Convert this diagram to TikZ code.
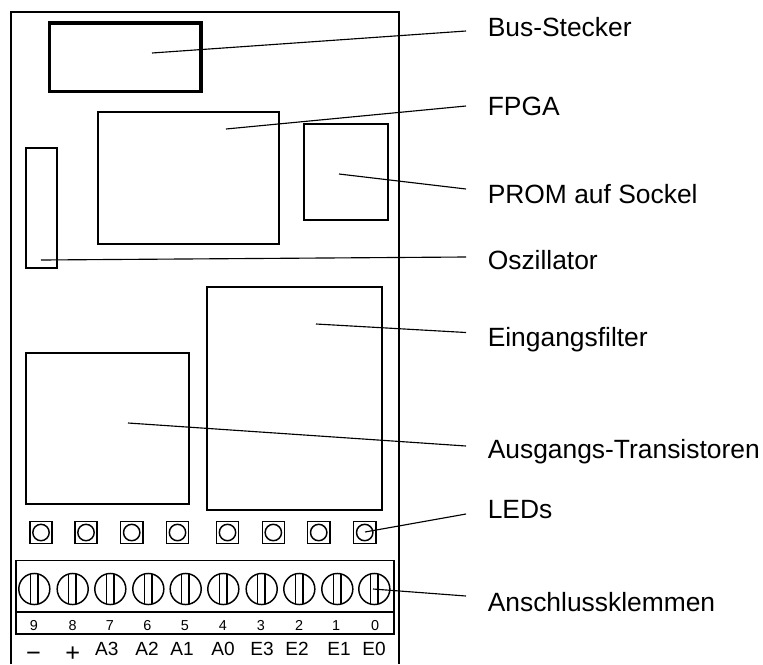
\documentclass[tikz,border=0pt]{standalone}
\usepackage{fontspec}
\setmainfont{Liberation Sans}
\tikzset{
  x=0.75pt,y=-0.75pt,
  part/.style={draw,line width=1.25pt},
  thick part/.style={draw,line width=2.6pt},
  leader/.style={draw,line width=0.85pt},
  lab/.style={anchor=base west,inner sep=0pt,font=\fontsize{19.8}{23}\selectfont},
  small/.style={anchor=base,inner sep=0pt,font=\fontsize{10.8}{13}\selectfont},
  sig/.style={anchor=base,inner sep=0pt,font=\fontsize{14.3}{17}\selectfont},
  sign/.style={anchor=base,inner sep=0pt,font=\fontsize{19}{23}\selectfont},
  led/.style={draw,line width=1.1pt,minimum size=16.6pt,inner sep=0pt},
  ring/.style={draw,circle,line width=1.1pt,minimum size=12.3pt,inner sep=0pt},
  screw/.style={draw,circle,line width=1.1pt,minimum size=23.3pt,inner sep=0pt},
  cbar/.style={line width=1.1pt}
}
\begin{document}
\begin{tikzpicture}
\useasboundingbox (0,0) rectangle (763,664);
\fill[white] (0,0) rectangle (763,664);
\draw[line width=1.25pt] (11,664) -- (11,12) -- (399,12) -- (399,664);
\draw[thick part] (49.5,23) rectangle (201,91.7);
\draw[part] (98,112) rectangle (279,244);
\draw[part] (304,124) rectangle (388,220);
\draw[part] (26,148) rectangle (57,268);
\draw[part] (207,287) rectangle (382,510);
\draw[part] (26,353) rectangle (189,504);
% LEDs
\foreach \n/\x in {1/41,2/86,3/131.7,4/177.5,5/227.5,6/273.3,7/318.7,8/364.7}{
  \node[led] (l\n) at (\x,532.5) {};
  \node[ring] (r\n) at (\x,532.5) {};
}
% terminal block
\draw[part] (16,560.5) rectangle (393.7,634);
\draw[part] (16,611.7) -- (393.7,611.7);
\foreach \n/\x in {1/34.3,2/72.7,3/110.3,4/148.3,5/185.7,6/223.3,7/261.7,8/299.3,9/337.3,10/374.3}{
  \node[screw] (s\n) at (\x,589) {};
  \draw[cbar] ([xshift=-3pt,yshift=11.1pt]s\n.center) -- ([xshift=-3pt,yshift=-11.1pt]s\n.center);
  \draw[cbar] ([xshift=2.6pt,yshift=11.1pt]s\n.center) -- ([xshift=2.6pt,yshift=-11.1pt]s\n.center);
}
\foreach \n/\x/\d in {1/34/9,2/72.7/8,3/110/7,4/147.5/6,5/185/5,6/223/4,7/261/3,8/299/2,9/336/1,10/375/0}{
  \node[small] (d\n) at (\x,630.7) {\d};
}
\node[sign] (tm) at (33.5,661) {−};
\node[sign] (tp) at (72.7,661) {+};
\foreach \n/\x/\s in {3/106.7/A3,4/147/A2,5/182/A1,6/223/A0,7/262/E3,8/297/E2,9/339/E1,10/374/E0}{
  \node[sig] (t\n) at (\x,655) {\s};
}
% labels
\node[lab] (bus) at (487.5,36) {Bus-Stecker};
\node[lab] (fpga) at (487.5,115) {FPGA};
\node[lab] (prom) at (487.5,203) {PROM auf Sockel};
\node[lab] (osz) at (487.5,269) {Oszillator};
\node[lab] (ein) at (487.5,346) {Eingangsfilter};
\node[lab] (aus) at (487.5,458) {Ausgangs-Transistoren};
\node[lab] (led) at (487.5,518) {LEDs};
\node[lab] (ans) at (487.5,611) {Anschlussklemmen};
% leaders
\foreach \n/\ax/\ay/\bx/\by in {bus/152/53/466/31,fpga/226/129/466/106,prom/339/174/466/189,osz/41/260/466/257,ein/316/324/466/332.5,aus/128/423/466/446,led/365/532/466/514,ans/373/589/466/596}{
  \coordinate (\n a) at (\ax,\ay);
  \coordinate (\n b) at (\bx,\by);
  \draw[leader] (\n a) -- (\n b);
}
\end{tikzpicture}
\end{document}
